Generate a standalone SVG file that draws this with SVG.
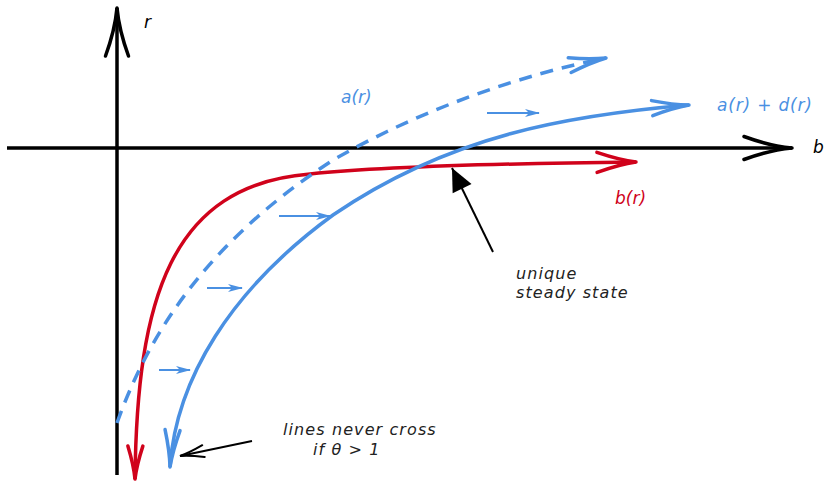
<svg xmlns="http://www.w3.org/2000/svg" width="829" height="481" viewBox="0 0 829 481">
<style>
.axis{fill:none;stroke:#000;stroke-width:3.5}
.blue{fill:none;stroke:#4A90E2;stroke-width:3.5;stroke-linecap:butt}
.red{fill:none;stroke:#D0021B;stroke-width:3.5}
.dash{stroke-dasharray:13 9}
.small{fill:none;stroke:#4A90E2;stroke-width:2}
.ptr{fill:none;stroke:#000;stroke-width:2}
text{font-family:"DejaVu Sans","Liberation Sans",sans-serif;font-style:italic}
.note{font-size:16px;fill:#222;letter-spacing:1.1px}
.lab{font-size:17px}
</style>
<defs>
<marker id="axArrow" markerUnits="userSpaceOnUse" orient="auto" markerWidth="10" markerHeight="10" refX="0" refY="0" overflow="visible">
<path d="M -48,-11.5 Q -22,-2 0,0 Q -22,2 -48,11.5" fill="none" stroke="#000" stroke-width="3.5" stroke-linecap="round" stroke-linejoin="round"/>
</marker>
<marker id="blueArrow" markerUnits="userSpaceOnUse" orient="auto-start-reverse" markerWidth="10" markerHeight="10" refX="0" refY="0" overflow="visible">
<path d="M -37,-7.5 Q -16,-1.5 0,0 Q -16,1.5 -37,7.5" fill="none" stroke="#4A90E2" stroke-width="3.5" stroke-linecap="round" stroke-linejoin="round"/>
</marker>
<marker id="redArrow" markerUnits="userSpaceOnUse" orient="auto" markerWidth="10" markerHeight="10" refX="0" refY="0" overflow="visible">
<path d="M -39,-10 Q -16,-2 0,0 Q -16,2 -39,10" fill="none" stroke="#D0021B" stroke-width="3.5" stroke-linecap="round" stroke-linejoin="round"/>
</marker>
<marker id="redArrowStart" markerUnits="userSpaceOnUse" orient="auto-start-reverse" markerWidth="10" markerHeight="10" refX="0" refY="0" overflow="visible">
<path d="M -33,-7.5 Q -14,-1.5 0,0 Q -14,1.5 -33,7.5" fill="none" stroke="#D0021B" stroke-width="3.5" stroke-linecap="round" stroke-linejoin="round"/>
</marker>
<marker id="stealth" markerUnits="userSpaceOnUse" orient="auto" markerWidth="10" markerHeight="10" refX="0" refY="0" overflow="visible">
<path d="M 1,0 L -14,-4 L -10,0 L -14,4 Z" fill="#4A90E2"/>
</marker>
<marker id="triArrow" markerUnits="userSpaceOnUse" orient="auto" markerWidth="10" markerHeight="10" refX="0" refY="0" overflow="visible">
<path d="M 0,0 L -23,-10.5 L -23,10.5 Z" fill="#000"/>
</marker>
<marker id="thinArrow" markerUnits="userSpaceOnUse" orient="auto" markerWidth="10" markerHeight="10" refX="0" refY="0" overflow="visible">
<path d="M -24,-6 Q -9,-1 0,0 Q -9,1 -24,6" fill="none" stroke="#000" stroke-width="2" stroke-linecap="round"/>
</marker>
</defs>

<g id="axes">
<line class="axis" x1="117" y1="475" x2="117" y2="8" marker-end="url(#axArrow)"/>
<line class="axis" x1="7" y1="148" x2="792" y2="148" marker-end="url(#axArrow)"/>
<text class="lab" x="144" y="28" fill="#000">r</text>
<text class="lab" x="813" y="153" fill="#000">b</text>
</g>

<g id="curves">
<path id="curve-b" class="red" d="M 135,479 C 137,300 170,185 310,174 C 360,169 450,164 636,162" marker-start="url(#redArrowStart)" marker-end="url(#redArrow)"/>
<path id="curve-a" class="blue dash" d="M 117,423 C 150,330 210,240 333,160 C 420,110 520,75 606,58" marker-end="url(#blueArrow)"/>
<path id="curve-ad" class="blue" d="M 170,467 C 176,380 230,290 333,215 C 450,135 570,115 689,105" marker-start="url(#blueArrow)" marker-end="url(#blueArrow)"/>
</g>

<g id="shift-arrows">
<line class="small" x1="487" y1="113" x2="539" y2="113" marker-end="url(#stealth)"/>
<line class="small" x1="279" y1="216" x2="330" y2="216" marker-end="url(#stealth)"/>
<line class="small" x1="207" y1="288" x2="242" y2="288" marker-end="url(#stealth)"/>
<line class="small" x1="159" y1="370" x2="190" y2="370" marker-end="url(#stealth)"/>
</g>

<g id="connectors">
<line class="ptr" x1="493" y1="252" x2="452" y2="168" marker-end="url(#triArrow)"/>
<line class="ptr" x1="252" y1="441" x2="180" y2="456" marker-end="url(#thinArrow)"/>
</g>

<g id="labels">
<text class="lab" x="341" y="103" fill="#4A90E2">a(r)</text>
<text class="lab" x="717" y="111" fill="#4A90E2" textLength="95" lengthAdjust="spacing">a(r) + d(r)</text>
<text class="lab" x="615" y="204" fill="#D0021B">b(r)</text>
<text class="note" x="516" y="279">unique</text>
<text class="note" x="516" y="298">steady state</text>
<text class="note" x="283" y="435">lines never cross</text>
<text class="note" x="313" y="455">if θ &gt; 1</text>
</g>
</svg>
